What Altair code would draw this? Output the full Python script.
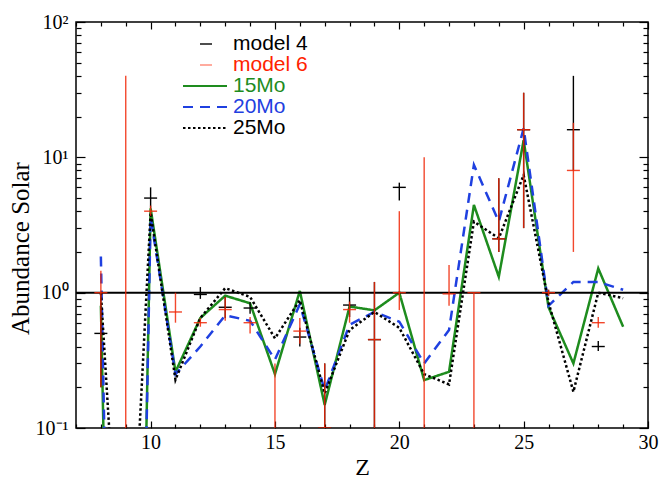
import altair as alt
import pandas as pd

# Atomic number grid of the supernova yield models
Z_MODEL = list(range(8, 30))
M15 = [0.8, 1e-9, 4.2, 0.26, 0.65, 0.95, 0.835, 0.25, 1.03, 0.148, 0.79, 0.74,
       1.0, 0.226, 0.26, 4.45, 1.31, 13.4, 0.78, 0.30, 1.51, 0.56]
M20 = [1.85, 1e-9, 3.6, 0.25, 0.40, 0.68, 0.62, 0.32, 0.82, 0.19, 0.58, 0.72,
       0.61, 0.30, 0.53, 8.8, 3.35, 16.4, 0.80, 1.2, 1.2, 1.05]
M25 = [1.0, 1e-3, 3.9, 0.227, 0.65, 1.08, 0.93, 0.46, 0.88, 0.18, 0.53, 0.72,
       0.55, 0.25, 0.21, 3.35, 2.52, 7.4, 0.85, 0.185, 1.0, 0.91]

# Fitted abundances (value, lower and upper limits) for model 4
Z_M4 = [8, 10, 12, 13, 14, 16, 17, 18, 19, 20, 24, 25, 26, 27, 28]
V_M4 = [0.5, 5.0, 0.97, 0.78, 0.77, 0.47, 0.1, 0.81, 0.45, 6.0, 2.5, 16.0, 1.0, 16.0, 0.4]
LO_M4 = [0.2, 4.2, 0.9, 0.65, 0.7, 0.40, 0.1, 0.66, 0.05, 4.8, 2.0, 3.0, 0.95, 8.0, 0.37]
HI_M4 = [1.0, 6.0, 1.1, 0.93, 0.85, 0.55, 0.3, 1.1, 1.2, 6.5, 7.0, 30.0, 1.05, 40.0, 0.44]

# Fitted abundances for model 6
Z_M6 = [8, 9, 10, 11, 12, 13, 14, 15, 16, 17, 18, 19, 20, 21, 22, 23, 24, 25, 26, 27, 28]
V_M6 = [1.0, 0.01, 4.0, 0.72, 0.6, 0.75, 0.6, 0.05, 0.52, 0.1, 0.75, 0.45, 1.0, 0.05,
        0.98, 1.0, 2.5, 16.0, 1.0, 8.0, 0.6]
LO_M6 = [0.2, 0.01, 3.7, 0.6, 0.56, 0.62, 0.5, 0.05, 0.42, 0.1, 0.6, 0.05, 0.745, 0.05,
         0.8, 0.05, 2.0, 3.0, 0.95, 2.0, 0.55]
HI_M6 = [1.45, 40.0, 4.4, 1.0, 0.65, 0.93, 0.66, 0.3, 0.65, 0.3, 0.86, 1.2, 4.0, 10.0,
         1.6, 1.0, 7.0, 30.0, 1.05, 18.0, 0.66]

SOLAR = [1.0]

MODEL_NAMES = ["15Mo", "20Mo", "25Mo"]
MODEL_COLORS = ["#1e8c1e", "#1f40e0", "#000000"]
MODEL_DASH = [[1, 0], [10, 7], [2.5, 2.5]]
RED = "#f02808"

LEGEND_NAMES = ["model 4", "model 6", "15Mo", "20Mo", "25Mo"]
LEGEND_COLORS = ["#000000", "#ff2200", "#1e8c1e", "#1f40e0", "#000000"]

X_TICKS = list(range(7, 31))
Y_TICKS = [m * 10.0 ** e for e in (-1, 0, 1) for m in range(1, 10)] + [100.0]

W, H = 572, 406
SERIF = "Liberation Serif"
SANS = "Liberation Sans"

xs = alt.Scale(domain=[7, 30], nice=False, zero=False)
ys = alt.Scale(type="log", domain=[0.1, 100], nice=False)

lines = pd.DataFrame({
    "Z": Z_MODEL * 3,
    "value": M15 + M20 + M25,
    "model": [MODEL_NAMES[0]] * len(M15) + [MODEL_NAMES[1]] * len(M20) + [MODEL_NAMES[2]] * len(M25),
})
obs4 = pd.DataFrame({"Z": Z_M4, "value": V_M4, "lo": LO_M4, "hi": HI_M4})
obs6 = pd.DataFrame({"Z": Z_M6, "value": V_M6, "lo": LO_M6, "hi": HI_M6})
solar = pd.DataFrame({"one": SOLAR})


def tick_axis(orient, values, major_test, big, small, offset):
    # inward-pointing frame ticks: an axis flipped onto the opposite edge
    return alt.Axis(orient=orient, values=values, labels=False, domain=False, grid=False,
                    title="", ticks=True, tickColor="black", tickWidth=1.2,
                    tickSize={"condition": {"test": major_test, "value": big}, "value": small},
                    offset=offset)


X_MAJOR = "datum.value % 5 === 0"
Y_MAJOR = "abs(log(datum.value)/LN10 - round(log(datum.value)/LN10)) < 0.001"

ticks_a = alt.Chart(lines).mark_point(opacity=0).encode(
    x=alt.X("Z:Q", scale=xs, axis=tick_axis("top", X_TICKS, X_MAJOR, 7, 4, -H)),
    y=alt.Y("value:Q", scale=ys, axis=tick_axis("right", Y_TICKS, Y_MAJOR, 9, 5, -W)),
)
ticks_b = alt.Chart(lines).mark_point(opacity=0).encode(
    x=alt.X("Z:Q", scale=xs, axis=tick_axis("bottom", X_TICKS, X_MAJOR, 7, 4, -H)),
    y=alt.Y("value:Q", scale=ys, axis=tick_axis("left", Y_TICKS, Y_MAJOR, 9, 5, -W)),
)

x_labels = alt.Axis(orient="bottom", values=[10, 15, 20, 25, 30], ticks=False, domain=False,
                    grid=False, labelFont=SERIF, labelFontSize=20, labelColor="black",
                    labelPadding=4, labelFlush=False, labelOverlap=False,
                    title="Z", titleFont=SERIF, titleFontSize=24, titleFontWeight="normal",
                    titleColor="black", titleBaseline="middle", titleY=39)
y_labels = alt.Axis(orient="left", values=[0.1, 1, 10, 100], ticks=False, domain=False,
                    grid=False, labelFont=SERIF, labelFontSize=20, labelColor="black",
                    labelPadding=8, labelFlush=False, labelOverlap=False,
                    labelExpr="datum.value >= 50 ? '10²' : datum.value >= 5 ? '10¹' : "
                              "datum.value >= 0.5 ? '10⁰' : '10⁻¹'",
                    title="Abundance Solar", titleFont=SERIF, titleFontSize=25,
                    titleFontWeight="normal", titleColor="black",
                    titleBaseline="middle", titleX=-56, titleY=226)

model_lines = alt.Chart(lines).mark_line(strokeWidth=2.5, clip=True).encode(
    x=alt.X("Z:Q", scale=xs, axis=x_labels),
    y=alt.Y("value:Q", scale=ys, axis=y_labels),
    color=alt.Color("model:N", scale=alt.Scale(domain=MODEL_NAMES, range=MODEL_COLORS), legend=None),
    strokeDash=alt.StrokeDash("model:N", scale=alt.Scale(domain=MODEL_NAMES, range=MODEL_DASH), legend=None),
)

solar_line = alt.Chart(solar).mark_rule(color="black", strokeWidth=2).encode(
    y=alt.Y("one:Q", scale=ys, axis=None)
)

DASH = "M-1,0L1,0"


def observations(df, color, opacity):
    bars = alt.Chart(df).mark_rule(color=color, strokeWidth=1.4, opacity=opacity, clip=True).encode(
        x=alt.X("Z:Q", scale=xs, axis=None),
        y=alt.Y("lo:Q", scale=ys, axis=None),
        y2="hi:Q",
    )
    marks = alt.Chart(df).mark_point(shape=DASH, size=169, filled=False, color=color,
                                     strokeWidth=1.4, opacity=opacity, clip=True).encode(
        x=alt.X("Z:Q", scale=xs, axis=None),
        y=alt.Y("value:Q", scale=ys, axis=None),
    )
    return [bars, marks]


# hand-placed key in the upper left of the plot
ROW_Y = [22, 43, 64, 85, 106]
key = pd.DataFrame({"name": LEGEND_NAMES, "col": LEGEND_COLORS, "py": ROW_Y,
                    "op": [1.0, 0.55, 1.0, 1.0, 1.0]})
key_text = alt.Chart(key).mark_text(align="left", baseline="middle", font=SANS, fontSize=21).encode(
    x=alt.value(157),
    y=alt.Y("py:Q", scale=None, axis=None),
    text="name:N",
    color=alt.Color("col:N", scale=None),
)
key_marks = alt.Chart(key.iloc[:2]).mark_rule(strokeWidth=1.4).encode(
    x=alt.value(124), x2=alt.value(136),
    y=alt.Y("py:Q", scale=None, axis=None),
    color=alt.Color("col:N", scale=None),
    opacity=alt.Opacity("op:Q", scale=None),
)
key_lines = []
for i, (c, d) in enumerate(zip(MODEL_COLORS, MODEL_DASH)):
    key_lines.append(
        alt.Chart(key.iloc[2 + i:3 + i]).mark_rule(strokeWidth=2, color=c, strokeDash=d).encode(
            x=alt.value(107), x2=alt.value(151),
            y=alt.Y("py:Q", scale=None, axis=None),
        )
    )

chart = alt.layer(
    ticks_a, ticks_b, model_lines, solar_line,
    *observations(obs4, "black", 1.0),
    *observations(obs6, RED, 0.85),
    key_text, key_marks, *key_lines,
).resolve_axis(
    x="independent", y="independent"
).properties(
    width=W, height=H,
    autosize=alt.AutoSizeParams(type="none"),
    padding={"left": 76, "top": 22, "right": 12, "bottom": 52},
    background="white",
).configure_view(
    stroke="black", strokeWidth=1.5
)

chart.save("out.html", embed_options={"renderer": "svg", "actions": False})
